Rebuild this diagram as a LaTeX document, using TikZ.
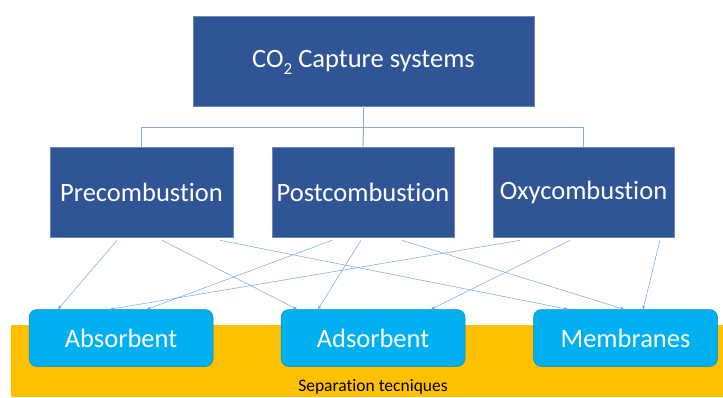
\documentclass[tikz,border=0pt]{standalone}
\usepackage{fontspec}
\setmainfont{Carlito}[Ligatures=NoCommon]
\usetikzlibrary{arrows.meta}
\definecolor{darkbox}{HTML}{2F5597}
\definecolor{lightbox}{HTML}{00B0F0}
\definecolor{band}{HTML}{FFC000}
\definecolor{treeline}{HTML}{8AA8DA}
\definecolor{arrline}{HTML}{6E9FD6}
\newcommand{\lowsub}[1]{\raisebox{-0.28em}[0pt][0pt]{\fontsize{17}{20}\selectfont #1}}
\begin{document}
\begin{tikzpicture}[x=1pt,y=-1pt,
  topbox/.style={draw=darkbox!70!white, line width=0.6pt, fill=darkbox, text=white, inner sep=0pt, font=\fontsize{26.5}{30}\selectfont},
  techbox/.style={draw=lightbox!80!black, line width=0.5pt, fill=lightbox, text=white, rounded corners=8pt, inner sep=0pt, font=\fontsize{26.5}{30}\selectfont},
  tree/.style={draw=treeline, line width=1pt},
  arr/.style={draw=arrline, line width=0.45pt, -{Stealth[length=4pt,width=3pt]}}]
\useasboundingbox (0,0) rectangle (723,397);
\fill[white] (0,0) rectangle (723,397);
% separation band
\fill[band] (11,325) rectangle (723,397);
\node[font=\fontsize{17.5}{20}\selectfont] (sep) at (373,387) {Separation tecniques};
% top
\node[topbox, minimum width=341pt, minimum height=90pt] (top) at (363.5,61) {CO\lowsub{2} Capture systems};
\node[topbox, minimum width=183pt, minimum height=90pt] (pre) at (141.5,192) {Precombustion};
\node[topbox, minimum width=182pt, minimum height=90pt] (post) at (363,192) {Postcombustion};
\node[topbox, minimum width=181pt, minimum height=90pt] (oxy) at (583.5,192) {Oxycombustion};
% tree connectors
\coordinate (j) at (363.5,127);
\draw[tree] (top.south) -- (j);
\draw[tree] (j) -| (pre.north);
\draw[tree] (j) -- (post.north);
\draw[tree] (j) -| (oxy.north);
% bottom boxes
\node[techbox, minimum width=184pt, minimum height=57pt] (abs) at (121,338) {Absorbent};
\node[techbox, minimum width=184pt, minimum height=57pt] (ads) at (373,338) {Adsorbent};
\node[techbox, minimum width=184pt, minimum height=57pt] (mem) at (625.5,338) {Membranes};
% arrows
\draw[arr] ([shift={(-24.5,3)}]pre.south) -- ([shift={(-63,0)}]abs.north);
\draw[arr] ([shift={(20.5,3)}]pre.south) -- ([shift={(-76,0)}]ads.north);
\draw[arr] ([shift={(78.5,3)}]pre.south) -- ([shift={(-57.5,0)}]mem.north);
\draw[arr] ([shift={(-31,3)}]post.south) -- ([shift={(26,0)}]abs.north);
\draw[arr] ([shift={(-2,3)}]post.south) -- ([shift={(-55,0)}]ads.north);
\draw[arr] ([shift={(39,3)}]post.south) -- ([shift={(-1.5,0)}]mem.north);
\draw[arr] ([shift={(-63.5,3)}]oxy.south) -- ([shift={(-11,0)}]abs.north);
\draw[arr] ([shift={(-13.5,3)}]oxy.south) -- ([shift={(58,0)}]ads.north);
\draw[arr] ([shift={(76.5,3)}]oxy.south) -- ([shift={(17.5,0)}]mem.north);
\end{tikzpicture}
\end{document}
